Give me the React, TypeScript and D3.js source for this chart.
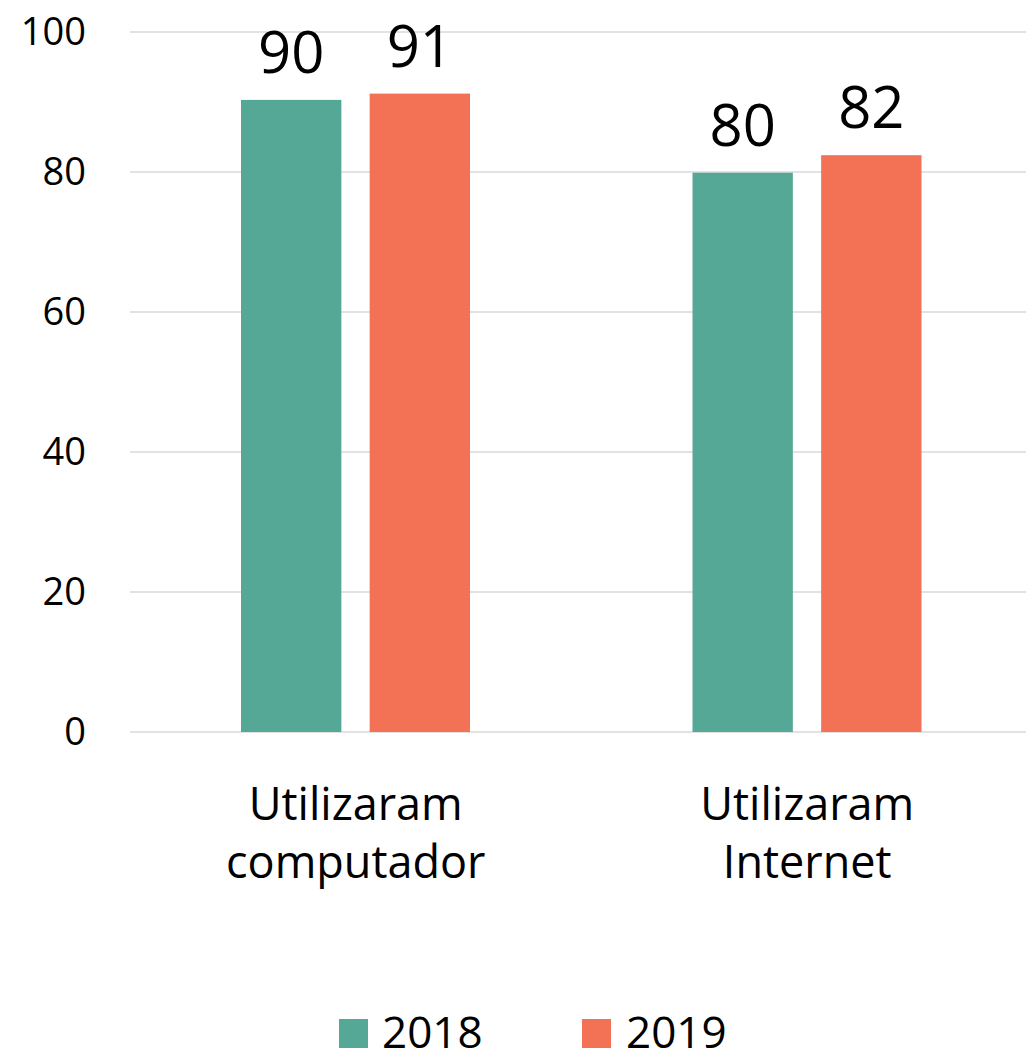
import React from "react";
import * as d3 from "d3";

const categories = [["Utilizaram", "computador"], ["Utilizaram", "Internet"]];
const years = ["2018", "2019"];
const values2018 = [90.3, 79.9];
const values2019 = [91.2, 82.4];
const labels2018 = ["90", "80"];
const labels2019 = ["91", "82"];
const yTicks = [0, 20, 40, 60, 80, 100];
const colors = ["#56A896", "#F37155"];

const W = 1026;
const H = 1053;
const FONT = "'Open Sans', 'Noto Sans', sans-serif";

export default function App() {
  const x0 = d3.scaleBand<number>().domain([0, 1]).range([130, 1033]).padding(0);
  const x1 = d3.scaleBand<string>().domain(years).range([111, 340]).paddingInner(0.22).paddingOuter(0);
  const y = d3.scaleLinear().domain([0, 100]).range([732, 32]);
  const series = [values2018, values2019];
  const labels = [labels2018, labels2019];

  return (
    <svg width={W} height={H} style={{ position: "absolute", left: 0, top: 0, background: "#fff" }} fontFamily={FONT}>
      {yTicks.map((t) => (
        <g key={t}>
          <line x1={130} x2={W} y1={y(t)} y2={y(t)} stroke="#d9d9d9" strokeWidth={1.5} />
          <text x={86} y={y(t)} dy="0.35em" textAnchor="end" fontSize={38} fill="#000">{t}</text>
        </g>
      ))}
      {categories.map((cat, i) => (
        <g key={i}>
          {years.map((yr, j) => {
            const v = series[j][i];
            const bx = (x0(i) as number) + (x1(yr) as number);
            const bw = x1.bandwidth();
            return (
              <g key={yr}>
                <rect x={bx} y={y(v)} width={bw} height={y(0) - y(v)} fill={colors[j]} />
                <text x={bx + bw / 2} y={y(v) - 27} textAnchor="middle" fontSize={58} fill="#000">{labels[j][i]}</text>
              </g>
            );
          })}
          {cat.map((line, k) => (
            <text key={k} x={(x0(i) as number) + x0.bandwidth() / 2} y={820 + k * 58} textAnchor="middle" fontSize={45} fill="#000">{line}</text>
          ))}
        </g>
      ))}
      {years.map((yr, j) => (
        <g key={yr}>
          <rect x={339 + j * 243} y={1019} width={29} height={29} fill={colors[j]} />
          <text x={382 + j * 244} y={1048} fontSize={44} fill="#000">{yr}</text>
        </g>
      ))}
    </svg>
  );
}
